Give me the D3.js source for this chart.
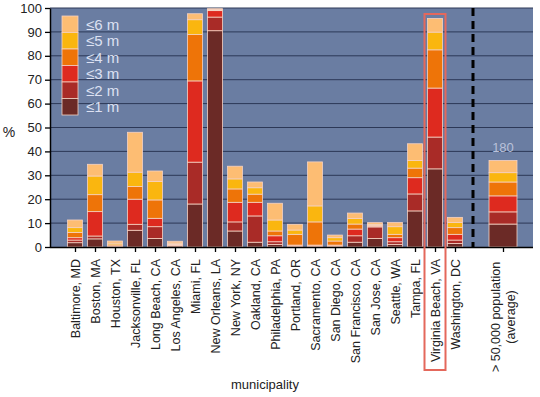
<!DOCTYPE html>
<html><head><meta charset="utf-8">
<script src="https://cdn.jsdelivr.net/npm/d3@7"></script>
<style>
html,body{margin:0;padding:0;background:#fff;}
svg{display:block;font-family:"Liberation Sans",Arial,sans-serif;}
</style></head>
<body><svg id="chart" width="540" height="397"></svg>
<script>
const cities = ["Baltimore, MD","Boston, MA","Houston, TX","Jacksonville, FL","Long Beach, CA","Los Angeles, CA","Miami, FL","New Orleans, LA","New York, NY","Oakland, CA","Philadelphia, PA","Portland, OR","Sacramento, CA","San Diego, CA","San Francisco, CA","San Jose, CA","Seattle, WA","Tampa, FL","Virginia Beach, VA","Washington, DC"];
// cumulative share (%) of land within each elevation threshold
const le1m = [1.8, 3.4, 0.1, 7.0, 3.6, 0.5, 18.0, 90.5, 6.7, 2.0, 1.1, 0.2, 0.2, 0.2, 2.0, 3.6, 1.1, 15.1, 32.7, 1.5];
const le2m = [2.9, 4.6, 0.2, 9.5, 8.5, 0.8, 35.5, 96.2, 10.5, 13.0, 2.2, 0.4, 0.4, 0.4, 4.7, 8.4, 2.2, 22.2, 46.0, 2.9];
const le3m = [3.9, 14.8, 0.4, 20.0, 12.0, 1.0, 69.5, 98.9, 18.7, 18.7, 4.7, 0.8, 0.8, 0.8, 7.5, 8.8, 3.9, 29.0, 66.5, 5.3];
const le4m = [6.1, 21.9, 0.9, 25.3, 19.7, 1.3, 88.9, 99.2, 24.3, 22.1, 6.7, 5.3, 10.5, 2.5, 9.6, 9.1, 5.3, 33.0, 82.5, 8.1];
const le5m = [8.1, 29.7, 1.6, 31.3, 27.4, 1.7, 95.1, 99.4, 28.5, 24.8, 11.3, 7.1, 17.2, 3.9, 11.9, 9.5, 8.5, 36.2, 89.9, 10.3];
const le6m = [11.3, 34.6, 2.5, 48.0, 31.8, 2.4, 97.6, 99.7, 33.8, 27.2, 18.3, 9.5, 35.6, 5.0, 14.2, 10.2, 10.3, 43.2, 95.6, 12.4];
const avgLabel = ["> 50,000 population", "(average)"];
const avgValues = [9.6, 14.7, 21.4, 27.2, 31.1, 36.2];
const avgCount = "180";
const levelLabels = ["≤1 m","≤2 m","≤3 m","≤4 m","≤5 m","≤6 m"];
const levelColors = ["#6b2a26","#a92b27","#de2a1f","#ee7408","#fab60f","#fdbd73"];
const yTicks = [0,10,20,30,40,50,60,70,80,90,100];
const highlight = "Virginia Beach, VA";

const series = [le1m, le2m, le3m, le4m, le5m, le6m];
const svg = d3.select("#chart");
const L = 50, R = 533, T = 8, B = 247;
const avgPos = cities.length + 1.4, dividerPos = cities.length - 0.1;
const x = d3.scaleLinear().domain([-1.25, cities.length + 2.9]).range([L, R]);
const y = d3.scaleLinear().domain([0, 100]).range([B, T]);

// background
svg.append("rect").attr("x", L).attr("y", T).attr("width", R - L).attr("height", B - T).attr("fill", "#6a7da2");
// grid
svg.append("g").selectAll("line").data(yTicks.filter(d => d > 0)).join("line")
  .attr("x1", L).attr("x2", R).attr("y1", d => y(d)).attr("y2", d => y(d))
  .attr("stroke", "#2c3857").attr("stroke-width", 1);

// bars
const rows = cities.map((c, i) => ({name: c, pos: i, w: 15, cum: series.map(s => s[i])}));
rows.push({name: "avg", pos: avgPos, w: 28, cum: avgValues});
const segs = [];
rows.forEach(r => r.cum.forEach((v, k) => {
  segs.push({r, k, y0: k === 0 ? 0 : r.cum[k - 1], y1: v});
}));
svg.append("g").selectAll("rect").data(segs).join("rect")
  .attr("x", d => x(d.r.pos) - d.r.w / 2).attr("width", d => d.r.w)
  .attr("y", d => y(d.y1)).attr("height", d => Math.max(0, y(d.y0) - y(d.y1)))
  .attr("fill", d => levelColors[d.k])
  .attr("stroke", "#f6d2c2").attr("stroke-width", 0.8);

// divider
svg.append("line").attr("x1", x(dividerPos)).attr("x2", x(dividerPos)).attr("y1", T).attr("y2", B)
  .attr("stroke", "#000").attr("stroke-width", 3).attr("stroke-dasharray", "8,5");

// count label
svg.append("text").attr("x", x(avgPos)).attr("y", y(avgValues[5]) - 8).attr("text-anchor", "middle")
  .attr("font-size", 13).attr("fill", "#b9c1da").text(avgCount);

// legend
const lg = svg.append("g");
const lgItems = levelLabels.map((t, k) => ({t, k})).reverse();
lg.selectAll("rect").data(lgItems).join("rect")
  .attr("x", 62).attr("y", (d, i) => 16 + i * 16.5).attr("width", 16).attr("height", 16.5)
  .attr("fill", d => levelColors[d.k]).attr("stroke", "#f6d2c2").attr("stroke-width", 0.8);
lg.selectAll("text").data(lgItems).join("text")
  .attr("x", 86).attr("y", (d, i) => 16 + i * 16.5 + 8.5).attr("dy", "0.35em")
  .attr("font-size", 15).attr("fill", "#dde1f2").text(d => d.t);

// y axis
const ya = svg.append("g").attr("transform", `translate(${L},0)`)
  .call(d3.axisLeft(y).tickValues(yTicks).tickSize(5).tickSizeOuter(0).tickPadding(3));
ya.select(".domain").attr("stroke", "#000").attr("stroke-width", 1.5);
ya.selectAll(".tick line").attr("stroke", "#000").attr("stroke-width", 1.3);
ya.selectAll("text").attr("font-size", 13).attr("fill", "#222").attr("font-family", "Liberation Sans, Arial, sans-serif");

// x axis
const xa = svg.append("g").attr("transform", `translate(0,${B})`)
  .call(d3.axisBottom(x).tickValues(d3.range(cities.length).concat([avgPos]))
    .tickFormat(d => Number.isInteger(d) && d < cities.length ? cities[d] : "")
    .tickSize(5).tickSizeOuter(0));
xa.select(".domain").attr("stroke", "#000").attr("stroke-width", 1.5)
  .attr("d", `M${L},0.5H${R}`);
xa.selectAll(".tick line").attr("stroke", "#000").attr("stroke-width", 1.3);
xa.selectAll(".tick text").attr("font-size", 12.5).attr("fill", "#222")
  .attr("font-family", "Liberation Sans, Arial, sans-serif")
  .attr("text-anchor", "end").attr("transform", "rotate(-90)")
  .attr("x", -12).attr("y", 0).attr("dy", "0.36em");

// average two-line label
const avgT = svg.append("text").attr("transform", `translate(${x(avgPos)},317) rotate(-90)`)
  .attr("text-anchor", "middle").attr("font-size", 12.5).attr("fill", "#222");
avgLabel.forEach((t, i) => avgT.append("tspan").attr("x", 0).attr("y", (i - 0.5) * 14.5).attr("dy", "0.36em").text(t));

// highlight box
svg.append("rect").attr("x", x(cities.indexOf(highlight)) - 10.5).attr("y", 14)
  .attr("width", 21).attr("height", 356).attr("fill", "none")
  .attr("stroke", "#e4685c").attr("stroke-width", 2);

// axis titles
svg.append("text").attr("x", 9).attr("y", 137).attr("text-anchor", "middle").attr("font-size", 14).attr("fill", "#222").text("%");
svg.append("text").attr("x", 265).attr("y", 389).attr("text-anchor", "middle").attr("font-size", 13).attr("fill", "#222").text("municipality");
</script></body></html>
